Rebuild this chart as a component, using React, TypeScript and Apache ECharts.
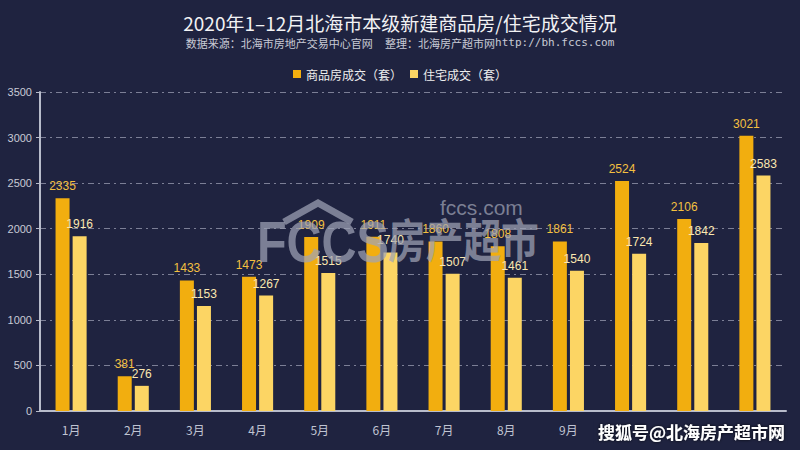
import React, { useEffect, useRef } from "react";
import * as echarts from "echarts";

const months = ["1月", "2月", "3月", "4月", "5月", "6月", "7月", "8月", "9月", "10月", "11月", "12月"];
const commercial = [2335, 381, 1433, 1473, 1909, 1911, 1860, 1808, 1861, 2524, 2106, 3021];
const residential = [1916, 276, 1153, 1267, 1515, 1740, 1507, 1461, 1540, 1724, 1842, 2583];
const seriesNames = ["商品房成交（套）", "住宅成交（套）"];

const BG = "#1f2340";
const CJK = "'Noto Sans CJK SC', 'Liberation Sans', sans-serif";
const NUM = "'Liberation Sans', 'Noto Sans CJK SC', sans-serif";

export default function App() {
  const ref = useRef<HTMLDivElement>(null);
  useEffect(() => {
    if (!ref.current) return;
    const chart = echarts.init(ref.current, undefined, { renderer: "svg" });
    const wmColor = "rgba(160,164,182,0.72)";
    chart.setOption({
      animation: false,
      backgroundColor: BG,
      title: {
        left: "center",
        top: 8,
        text: "2020年1–12月北海市本级新建商品房/住宅成交情况",
        textStyle: { color: "#f2f2f4", fontSize: 19, fontWeight: "normal", fontFamily: CJK },
        subtext: "数据来源：北海市房地产交易中心官网     整理：北海房产超市网{m|http://bh.fccs.com}",
        subtextStyle: {
          color: "#c9cbd6",
          fontSize: 11,
          fontFamily: CJK,
          rich: { m: { fontFamily: "'DejaVu Sans Mono', monospace", fontSize: 11, color: "#c9cbd6" } },
        },
        itemGap: 5,
      },
      legend: {
        top: 63,
        left: "center",
        itemWidth: 8,
        itemHeight: 8,
        itemGap: 8,
        icon: "rect",
        textStyle: { color: "#eeeeee", fontSize: 12, fontFamily: CJK },
        data: seriesNames,
      },
      grid: { left: 40, right: 14, top: 92, bottom: 39, containLabel: false },
      xAxis: {
        type: "category",
        data: months,
        axisLine: { lineStyle: { color: "#b8bccb", width: 2 } },
        axisTick: { lineStyle: { color: "#b8bccb" }, length: 5 },
        axisLabel: { color: "#c0c4d2", fontSize: 12, margin: 12, fontFamily: CJK },
      },
      yAxis: {
        type: "value",
        min: 0,
        max: 3500,
        interval: 500,
        axisLine: { show: true, lineStyle: { color: "#b8bccb", width: 2 } },
        axisTick: { show: true, length: 4, lineStyle: { color: "#b8bccb" } },
        axisLabel: { color: "#c8cad6", fontSize: 11, fontFamily: NUM, formatter: (v: number) => String(v) },
        splitLine: { lineStyle: { color: "rgba(200,204,220,0.55)", type: [6, 4, 2, 4], width: 1 } },
      },
      series: [
        {
          name: seriesNames[0],
          type: "bar",
          data: commercial,
          barWidth: 14,
          barGap: "22%",
          itemStyle: { color: "#f2ae0f" },
          label: { show: true, position: "top", distance: 6, color: "#f4c040", fontSize: 12, fontFamily: NUM },
        },
        {
          name: seriesNames[1],
          type: "bar",
          data: residential,
          barWidth: 14,
          itemStyle: { color: "#fcd564" },
          label: { show: true, position: "top", distance: 6, color: "#fbe8b0", fontSize: 12, fontFamily: NUM },
        },
      ],
      graphic: [
        {
          type: "text",
          x: 440,
          y: 197,
          z: 100,
          style: { text: "fccs.com", fill: wmColor, fontSize: 21, fontFamily: NUM },
        },
        {
          type: "polyline",
          z: 100,
          shape: { points: [[284, 222], [318, 203], [352, 222]] },
          style: { stroke: wmColor, lineWidth: 7, fill: "none" },
        },
        {
          type: "text",
          x: 257,
          y: 214,
          scaleX: 0.85,
          z: 100,
          style: { text: "FCCS", fill: wmColor, fontSize: 57, fontWeight: "bold", fontFamily: NUM },
        },
        {
          type: "text",
          x: 388,
          y: 214,
          scaleX: 0.82,
          z: 100,
          style: { text: "房产超市", fill: wmColor, fontSize: 46, fontWeight: "bold", fontFamily: CJK },
        },
        {
          type: "text",
          right: 12,
          top: 421,
          z: 100,
          style: {
            text: "搜狐号@北海房产超市网",
            fill: "#ffffff",
            fontSize: 17,
            fontWeight: "bold",
            fontFamily: CJK,
            backgroundColor: BG,
            padding: [2, 3, 4, 4],
            textShadowColor: "rgba(0,0,0,0.8)",
            textShadowBlur: 3,
          },
        },
      ],
    });
    return () => chart.dispose();
  }, []);
  return <div ref={ref} style={{ position: "fixed", left: 0, top: 0, width: 800, height: 450 }} />;
}
